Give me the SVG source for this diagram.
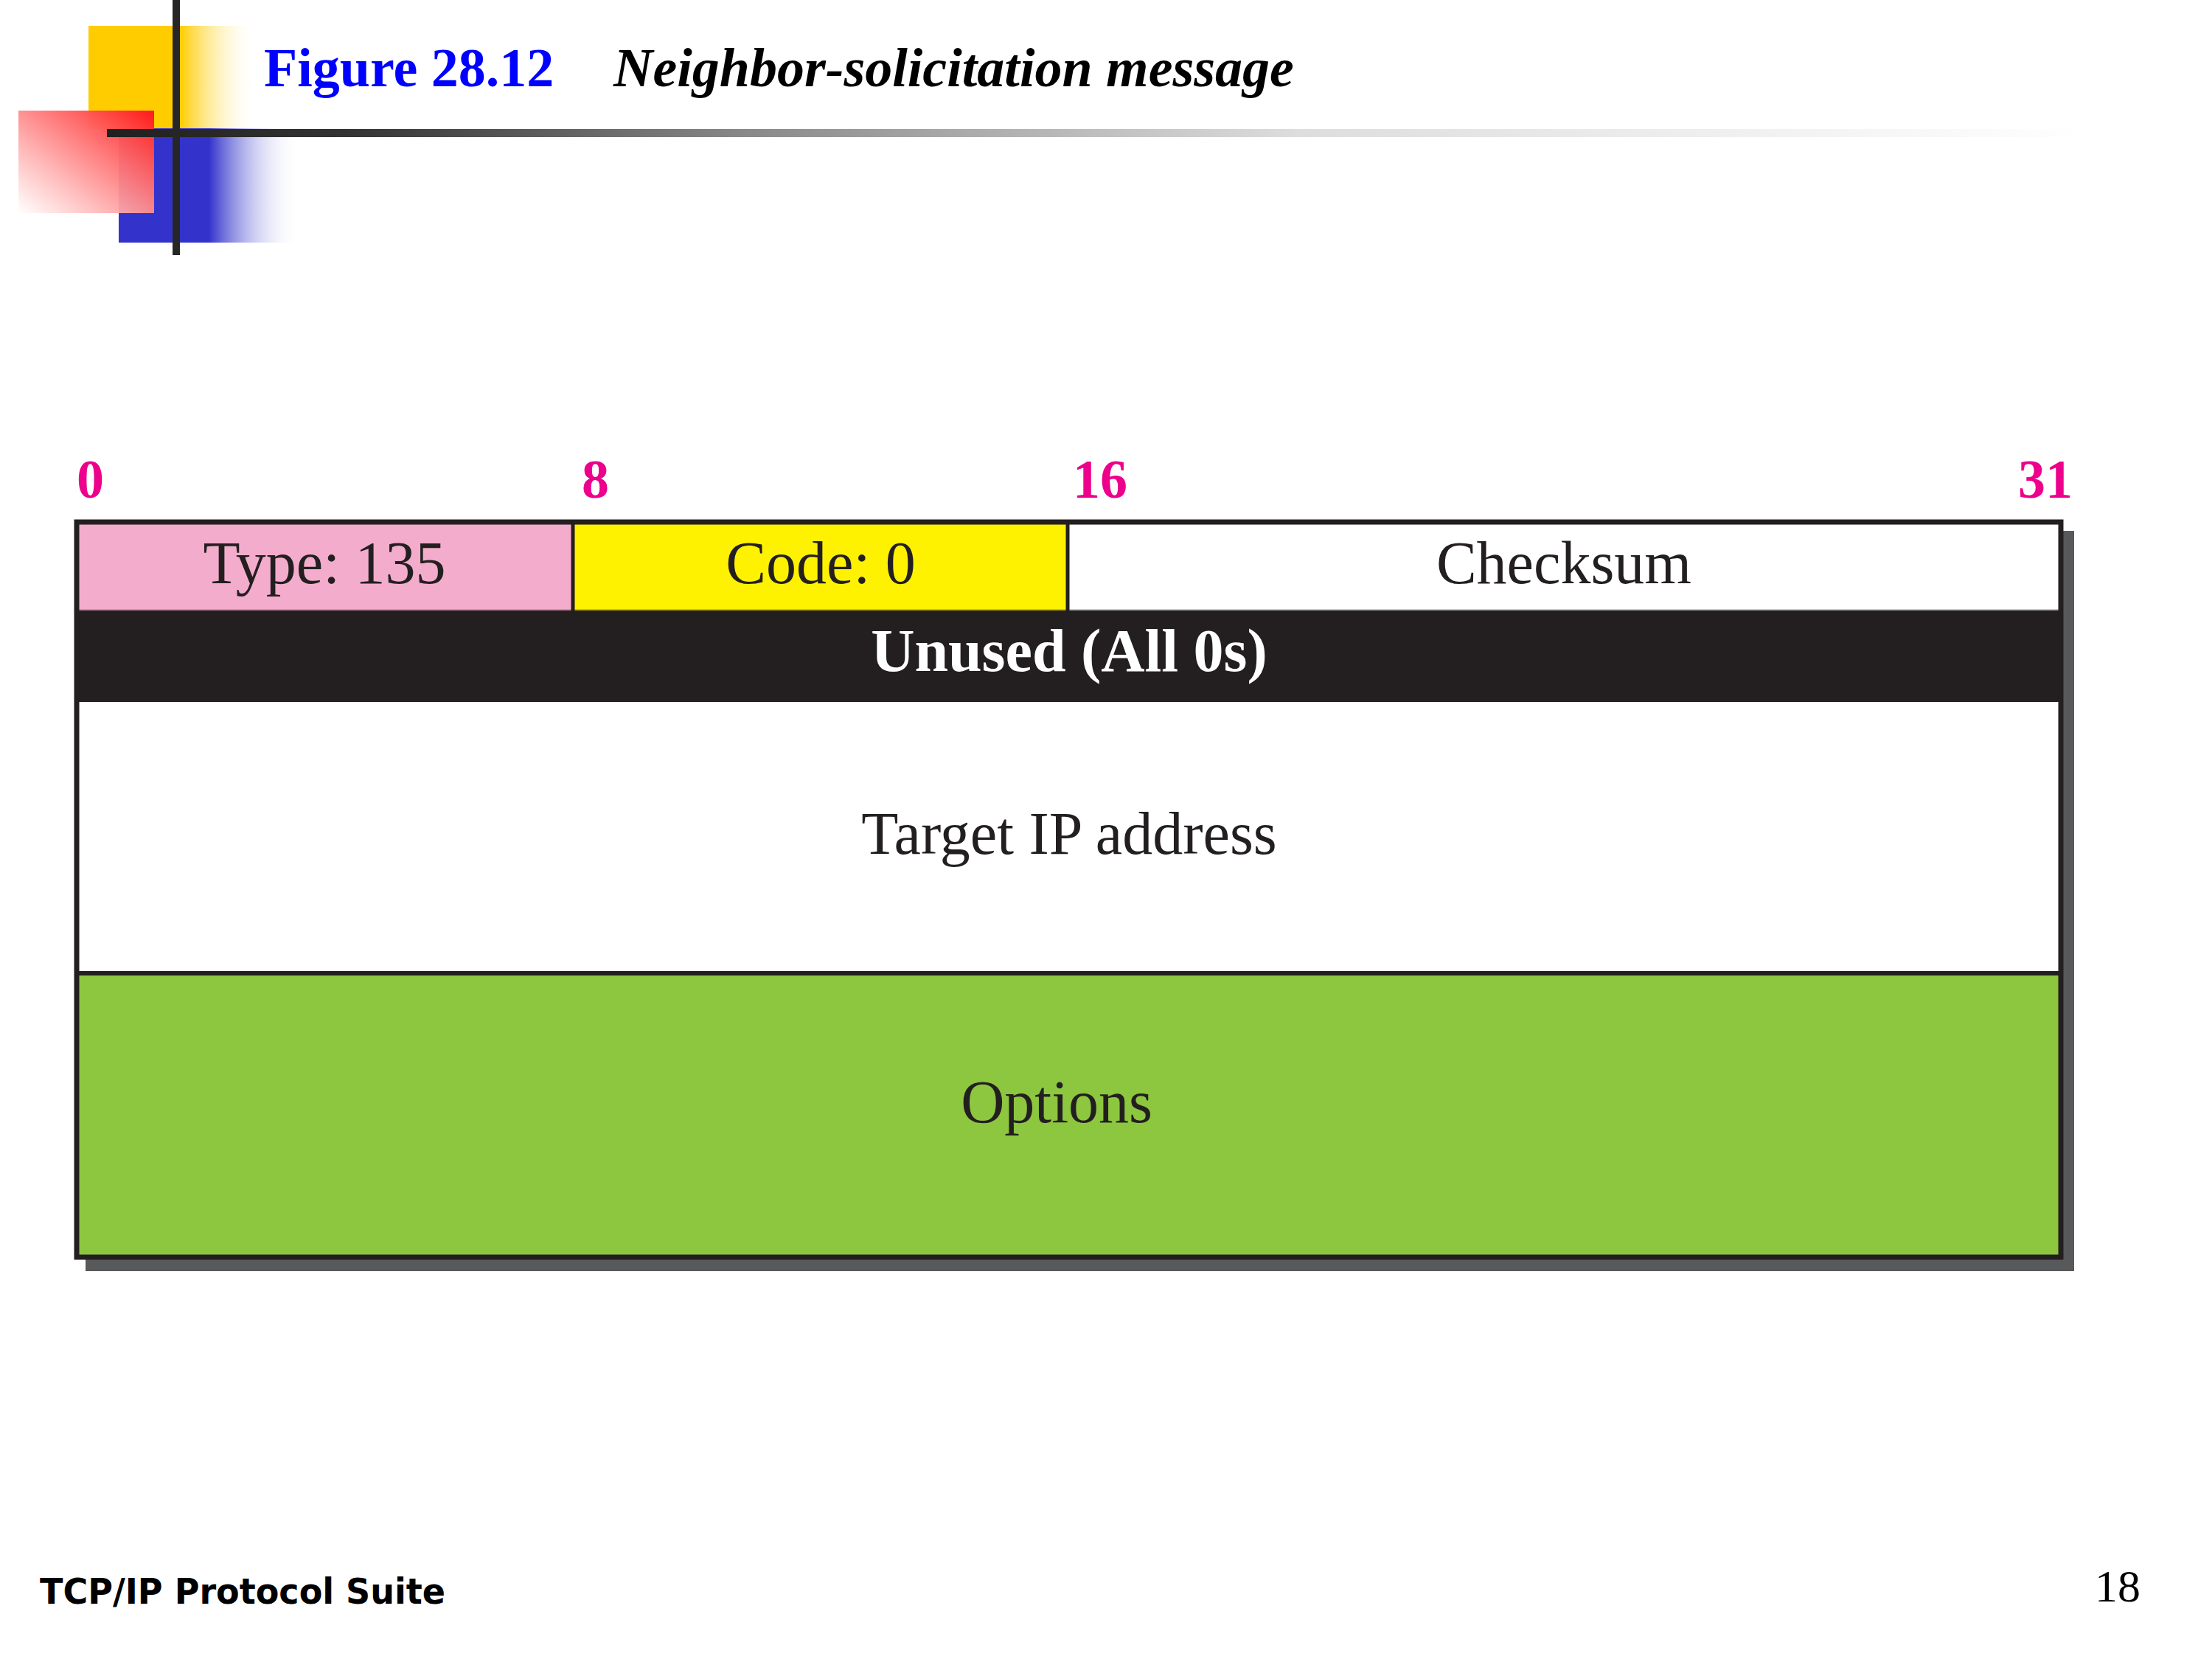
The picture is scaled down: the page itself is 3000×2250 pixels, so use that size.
<svg xmlns="http://www.w3.org/2000/svg" width="3000" height="2250" viewBox="0 0 3000 2250">
<style>
.lbl{font-family:"Liberation Serif","Times New Roman",serif;font-size:82px;fill:#231F20;text-anchor:middle}
.bit{font-family:"Liberation Serif","Times New Roman",serif;font-size:74px;font-weight:bold;fill:#EC008C}
.title{font-family:"Liberation Serif","Times New Roman",serif;font-size:74px;font-weight:bold}
</style>
<defs>
<linearGradient id="gy" x1="0" y1="0" x2="1" y2="0">
<stop offset="0" stop-color="#FFCC00"/><stop offset="0.54" stop-color="#FFCC00"/><stop offset="1" stop-color="#FFFFFF" stop-opacity="0"/>
</linearGradient>
<linearGradient id="gb" x1="0" y1="0" x2="1" y2="0">
<stop offset="0" stop-color="#3333CC"/><stop offset="0.5" stop-color="#3333CC"/><stop offset="1" stop-color="#FFFFFF" stop-opacity="0"/>
</linearGradient>
<linearGradient id="gr" x1="1" y1="0" x2="0" y2="1">
<stop offset="0" stop-color="#FF1A1A"/><stop offset="1" stop-color="#FFFFFF" stop-opacity="0.9"/>
</linearGradient>
<linearGradient id="gl" x1="0" y1="0" x2="1" y2="0">
<stop offset="0" stop-color="#202020"/><stop offset="0.12" stop-color="#333333"/><stop offset="0.32" stop-color="#888888"/><stop offset="0.6" stop-color="#DDDDDD"/><stop offset="1" stop-color="#FFFFFF"/>
</linearGradient>
</defs>
<rect width="3000" height="2250" fill="#FFFFFF"/>
<g id="decor">
<rect x="120" y="35" width="230" height="140" fill="url(#gy)"/>
<rect x="161" y="174" width="245" height="155" fill="url(#gb)"/>
<rect x="25" y="150" width="184" height="139" fill="url(#gr)"/>
<rect x="145" y="175" width="2690" height="11" fill="url(#gl)"/>
<rect x="234" y="0" width="10" height="346" fill="#262626"/>
</g>
<g id="title">
<text class="title" x="358" y="117" fill="#0000FF">Figure 28.12</text>
<text class="title" x="832" y="117" fill="#000000" font-style="italic">Neighbor-solicitation message</text>
</g>
<g id="bits">
<text class="bit" x="104" y="675">0</text>
<text class="bit" x="789" y="675">8</text>
<text class="bit" x="1455" y="675">16</text>
<text class="bit" x="2811" y="675" text-anchor="end">31</text>
</g>
<rect id="shadow" x="116" y="720" width="2697" height="1004" fill="#58595B"/>
<g id="type">
<rect x="104" y="708" width="673" height="120" fill="#F4ACCD" stroke="#A87A8C" stroke-width="3"/>
<text class="lbl" x="440" y="791">Type: 135</text>
</g>
<g id="code">
<rect x="777" y="708" width="671" height="120" fill="#FFF200" stroke="#A89F00" stroke-width="3"/>
<text class="lbl" x="1113" y="791">Code: 0</text>
</g>
<g id="checksum">
<rect x="1448" y="708" width="1347" height="120" fill="#FFFFFF" stroke="#999999" stroke-width="3"/>
<text class="lbl" x="2121" y="791">Checksum</text>
</g>
<g id="unused">
<rect x="104" y="828" width="2691" height="124" fill="#231F20"/>
<text class="lbl" x="1450" y="910" font-weight="bold" fill="#FFFFFF" style="fill:#FFFFFF">Unused (All 0s)</text>
</g>
<g id="target">
<rect x="104" y="952" width="2691" height="368" fill="#FFFFFF"/>
<text class="lbl" x="1450" y="1158">Target IP address</text>
</g>
<g id="options">
<rect x="104" y="1320" width="2691" height="384" fill="#8DC63F"/>
<text class="lbl" x="1433" y="1522">Options</text>
</g>
<g id="lines" fill="none" stroke="#231F20">
<line x1="777" y1="708" x2="777" y2="828" stroke-width="5"/>
<line x1="1448" y1="708" x2="1448" y2="828" stroke-width="5"/>
<line x1="104" y1="1320" x2="2795" y2="1320" stroke-width="6"/>
<rect x="104" y="708" width="2691" height="997" stroke-width="7"/>
</g>
<g id="footer">
<text x="54" y="2175" font-family="'DejaVu Sans',Verdana,sans-serif" font-weight="bold" font-size="48" textLength="550" lengthAdjust="spacingAndGlyphs" fill="#000000">TCP/IP Protocol Suite</text>
<text x="2903" y="2172" font-family="'Liberation Serif','Times New Roman',serif" font-size="62" text-anchor="end" fill="#000000">18</text>
</g>
</svg>
